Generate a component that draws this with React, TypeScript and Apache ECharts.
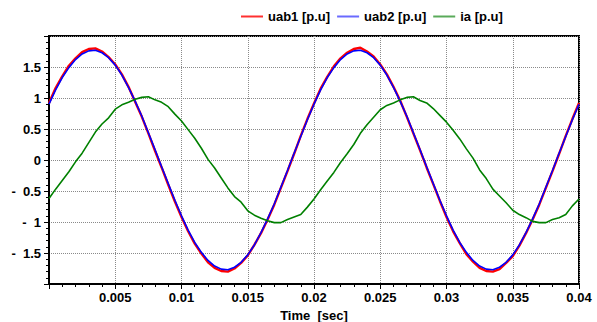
import React, { useEffect, useRef } from 'react';
import * as echarts from 'echarts';

const times = [
  0, 0.0005, 0.001, 0.0015, 0.002, 0.0025, 0.003, 0.0035, 0.004, 0.0045,
  0.005, 0.0055, 0.006, 0.0065, 0.007, 0.0075, 0.008, 0.0085, 0.009, 0.0095,
  0.01, 0.0105, 0.011, 0.0115, 0.012, 0.0125, 0.013, 0.0135, 0.014, 0.0145,
  0.015, 0.0155, 0.016, 0.0165, 0.017, 0.0175, 0.018, 0.0185, 0.019, 0.0195,
  0.02, 0.0205, 0.021, 0.0215, 0.022, 0.0225, 0.023, 0.0235, 0.024, 0.0245,
  0.025, 0.0255, 0.026, 0.0265, 0.027, 0.0275, 0.028, 0.0285, 0.029, 0.0295,
  0.03, 0.0305, 0.031, 0.0315, 0.032, 0.0325, 0.033, 0.0335, 0.034, 0.0345,
  0.035, 0.0355, 0.036, 0.0365, 0.037, 0.0375, 0.038, 0.0385, 0.039, 0.0395,
  0.04,
];

const uab1 = [
  0.92, 1.16, 1.35, 1.52, 1.64, 1.74, 1.79, 1.80, 1.75, 1.66,
  1.54, 1.38, 1.18, 0.94, 0.70, 0.43, 0.15, -0.12, -0.40, -0.67,
  -0.92, -1.15, -1.35, -1.51, -1.65, -1.74, -1.79, -1.80, -1.75, -1.66,
  -1.54, -1.37, -1.18, -0.96, -0.72, -0.45, -0.18, 0.10, 0.39, 0.66,
  0.91, 1.15, 1.34, 1.51, 1.64, 1.73, 1.79, 1.81, 1.75, 1.67,
  1.54, 1.38, 1.18, 0.96, 0.70, 0.43, 0.16, -0.12, -0.39, -0.66,
  -0.92, -1.15, -1.34, -1.52, -1.64, -1.74, -1.79, -1.80, -1.76, -1.66,
  -1.55, -1.38, -1.18, -0.96, -0.72, -0.45, -0.18, 0.10, 0.39, 0.66,
  0.92,
];

const uab2 = [
  0.90, 1.13, 1.33, 1.49, 1.62, 1.71, 1.76, 1.77, 1.73, 1.65,
  1.53, 1.37, 1.17, 0.95, 0.71, 0.44, 0.17, -0.11, -0.38, -0.65,
  -0.90, -1.13, -1.33, -1.49, -1.62, -1.71, -1.76, -1.77, -1.73, -1.65,
  -1.53, -1.37, -1.17, -0.95, -0.71, -0.44, -0.17, 0.11, 0.38, 0.65,
  0.90, 1.13, 1.33, 1.49, 1.62, 1.71, 1.76, 1.77, 1.73, 1.65,
  1.53, 1.37, 1.17, 0.95, 0.71, 0.44, 0.17, -0.11, -0.38, -0.65,
  -0.90, -1.13, -1.33, -1.49, -1.62, -1.71, -1.76, -1.77, -1.73, -1.65,
  -1.53, -1.37, -1.17, -0.95, -0.71, -0.44, -0.17, 0.11, 0.38, 0.65,
  0.90,
];

const ia = [
  -0.62, -0.47, -0.33, -0.19, -0.03, 0.11, 0.28, 0.45, 0.58, 0.68,
  0.82, 0.89, 0.93, 0.98, 1.01, 1.02, 0.97, 0.93, 0.86, 0.74,
  0.63, 0.49, 0.35, 0.19, 0.01, -0.13, -0.29, -0.45, -0.59, -0.68,
  -0.82, -0.89, -0.94, -0.98, -1.01, -1.01, -0.96, -0.92, -0.88, -0.76,
  -0.63, -0.48, -0.34, -0.20, -0.04, 0.10, 0.25, 0.43, 0.57, 0.69,
  0.81, 0.88, 0.92, 0.97, 1.01, 1.02, 0.96, 0.92, 0.83, 0.72,
  0.61, 0.48, 0.34, 0.18, 0.03, -0.16, -0.30, -0.47, -0.58, -0.69,
  -0.81, -0.88, -0.93, -0.99, -1.01, -1.01, -0.96, -0.93, -0.88, -0.74,
  -0.63,
];

const seriesNames = ['uab1 [p.u]', 'uab2 [p.u]', 'ia [p.u]'];
const seriesColors = ['#ff0000', '#0000ff', '#008000'];
const legendColors = ['#ff3030', '#6a6aff', '#5aaa5a'];
const xTitle = 'Time  [sec]';

const FONT = '"Liberation Sans", Arial, sans-serif';

export default function App() {
  const ref = useRef<HTMLDivElement>(null);

  useEffect(() => {
    document.body.style.margin = '0';
    const chart = echarts.init(ref.current!, null, { renderer: 'svg' });
    const values = [uab1, uab2, ia];
    const widths = [2.4, 1.6, 1.6];

    chart.setOption({
      animation: false,
      backgroundColor: '#ffffff',
      textStyle: { fontFamily: FONT },
      legend: {
        top: 5,
        left: 236,
        icon: 'rect',
        itemWidth: 22,
        itemHeight: 2,
        itemGap: 7,
        textStyle: { fontFamily: FONT, fontWeight: 'bold', fontSize: 13, color: '#000' },
        data: seriesNames.map((n, i) => ({ name: n, itemStyle: { color: legendColors[i] } })),
      },
      grid: {
        left: 49,
        right: 18,
        top: 36,
        bottom: 38,
        show: true,
        borderColor: '#000',
        borderWidth: 2,
        outerBoundsMode: 'none',
        containLabel: false,
      },
      xAxis: {
        type: 'value',
        min: 0,
        max: 0.04,
        interval: 0.005,
        name: xTitle,
        nameLocation: 'middle',
        nameGap: 15,
        nameTextStyle: { fontFamily: FONT, fontWeight: 'bold', fontSize: 13, color: '#000', verticalAlign: 'top' },
        axisLine: { show: true, onZero: false, lineStyle: { color: '#000', width: 2 } },
        axisTick: { show: true, length: 5, lineStyle: { color: '#000', width: 1 } },
        minorTick: { show: true, splitNumber: 5, length: 3, lineStyle: { color: '#000', width: 1 } },
        splitLine: { show: true, lineStyle: { type: 'dotted', color: '#8a8a8a', width: 1 } },
        minorSplitLine: { show: false },
        axisLabel: {
          fontFamily: FONT,
          fontWeight: 'bold',
          fontSize: 13,
          color: '#000',
          margin: 7,
          formatter: (v: number) => (v === 0 ? '' : String(Number(v.toFixed(4)))),
        },
      },
      yAxis: {
        type: 'value',
        min: -2,
        max: 2,
        interval: 0.5,
        axisLine: { show: true, onZero: false, lineStyle: { color: '#000', width: 2 } },
        axisTick: { show: true, length: 5, lineStyle: { color: '#000', width: 1 } },
        minorTick: { show: true, splitNumber: 5, length: 3, lineStyle: { color: '#000', width: 1 } },
        splitLine: { show: true, lineStyle: { type: 'dotted', color: '#8a8a8a', width: 1 } },
        axisLabel: {
          fontFamily: FONT,
          fontWeight: 'bold',
          fontSize: 13,
          color: '#000',
          margin: 8,
          formatter: (v: number) => {
            const r = Number(v.toFixed(2));
            if (Math.abs(r) >= 2) return '';
            return r < 0 ? '-  ' + String(Math.abs(r)) : String(r);
          },
        },
      },
      series: seriesNames.map((n, i) => ({
        name: n,
        type: 'line',
        showSymbol: false,
        symbol: 'none',
        clip: true,
        data: times.map((t, j) => [t, values[i][j]]),
        lineStyle: { color: seriesColors[i], width: widths[i] },
        itemStyle: { color: seriesColors[i] },
        emphasis: { disabled: true },
        z: i === 2 ? 3 : 2,
      })),
    });

    return () => chart.dispose();
  }, []);

  return (
    <div
      ref={ref}
      style={{ position: 'absolute', left: 0, top: 0, width: 597, height: 322 }}
    />
  );
}
